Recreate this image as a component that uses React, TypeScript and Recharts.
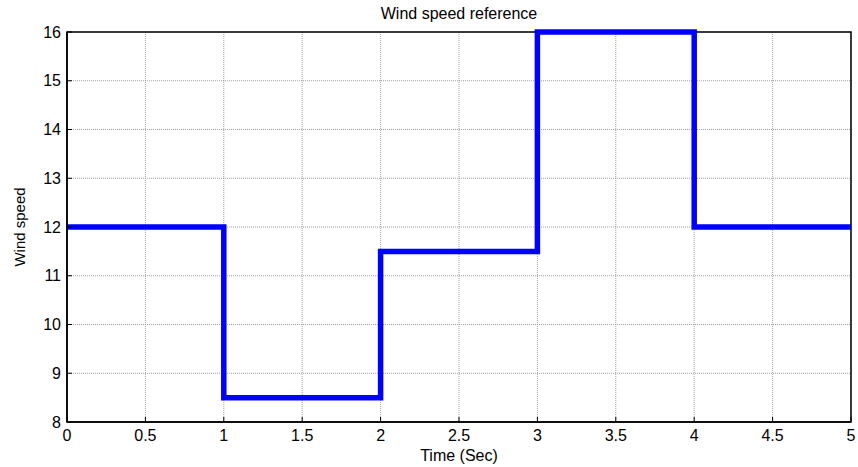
import { LineChart, Line, XAxis, YAxis, CartesianGrid, ReferenceArea, Label } from "recharts"

const times = [0, 1, 2, 3, 4, 5]
const windSpeed = [12, 8.5, 11.5, 16, 12, 12]
const xTicks = [0, 0.5, 1, 1.5, 2, 2.5, 3, 3.5, 4, 4.5, 5]
const yTicks = [8, 9, 10, 11, 12, 13, 14, 15, 16]

const data = times.map((t, i) => ({ t, v: windSpeed[i] }))

const font = "'Liberation Sans', Arial, sans-serif"

const App = () => {
  return (
    <div style={{ position: "absolute", left: 0, top: 0, background: "#fff" }}>
      <LineChart
        width={858}
        height={467}
        data={data}
        margin={{ top: 32, right: 7, bottom: 0, left: 0 }}
        style={{ fontFamily: font }}
      >
        <CartesianGrid stroke="#8a8a8a" strokeDasharray="1 1" strokeWidth={0.8} />
        <XAxis
          dataKey="t"
          type="number"
          domain={[0, 5]}
          ticks={xTicks}
          height={45}
          stroke="#000"
          tickSize={-5}
          tickMargin={13}
          tick={{ fill: "#000", fontSize: 16 }}
          axisLine={{ stroke: "#000", strokeWidth: 1.5 }}
        >
          <Label value="Time (Sec)" position="insideBottom" offset={6} fill="#000" fontSize={16} />
        </XAxis>
        <YAxis
          type="number"
          domain={[8, 16]}
          ticks={yTicks}
          width={67}
          stroke="#000"
          tickSize={-5}
          tickMargin={11}
          tick={{ fill: "#000", fontSize: 16 }}
          axisLine={{ stroke: "#000", strokeWidth: 1.5 }}
        >
          <Label value="Wind speed" angle={-90} position="insideLeft" offset={20} fill="#000" fontSize={15} style={{ textAnchor: "middle" }} />
        </YAxis>
        <ReferenceArea x1={0} x2={5} y1={8} y2={16} fill="none" stroke="#000" strokeWidth={1.5} />
        <Line
          type="stepAfter"
          dataKey="v"
          stroke="#0000ff"
          strokeWidth={5.5}
          dot={false}
          isAnimationActive={false}
        />
        <text x={459} y={19} textAnchor="middle" fontSize={16} fill="#000" fontFamily={font}>
          Wind speed reference
        </text>
      </LineChart>
    </div>
  )
}

export default App
